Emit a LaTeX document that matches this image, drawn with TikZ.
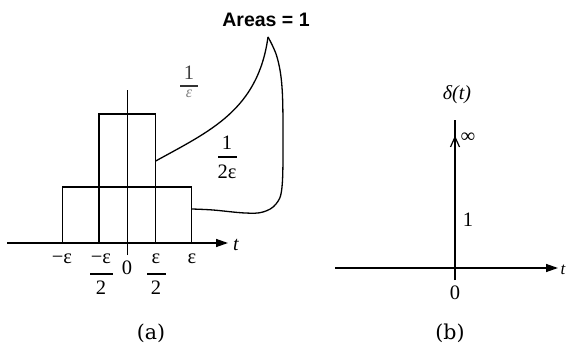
\documentclass[tikz,border=0pt]{standalone}
\usepackage{fontspec}
\setmainfont{Liberation Serif}
\newfontfamily\areafont{Liberation Sans}
\newfontfamily\capfont{DejaVu Serif}
\usetikzlibrary{arrows.meta}
\begin{document}
\begin{tikzpicture}[x=1pt,y=-1pt,
  lbl/.style={inner sep=0pt,font=\fontsize{20.5}{22}\selectfont},
  ilbl/.style={inner sep=0pt,font=\fontsize{20}{22}\selectfont\itshape},
  small/.style={inner sep=0pt,font=\fontsize{16}{17}\selectfont\itshape,text=black!50},
  caption/.style={inner sep=0pt,font=\capfont\fontsize{20.5}{22}\selectfont},
  ax/.style={line width=1.4pt},
  boxline/.style={line width=1.3pt},
  fbar/.style={line width=1.1pt},
  tip/.style={-{Triangle[length=12pt,width=8pt]}}]
\useasboundingbox (0,0) rectangle (567,347);
% ---------- panel (a) ----------
\coordinate (axL) at (7,243);
\coordinate (axR) at (228,243);
\coordinate (vB) at (127.3,255);
\coordinate (vT) at (127.3,90);
\draw[boxline] (62.7,243) rectangle (191.7,187);
\draw[boxline] (99,243) rectangle (155.7,114);
\draw[ax,tip] (axL) -- (axR);
\draw[ax] (vB) -- (vT);
\node[ilbl,anchor=west] (ta) at (233,245) {t};
\node[lbl] (xm) at (62,259) {−ε};
\node[lbl] (hmn) at (101,259) {−ε};
\node[lbl] (hmd) at (101,288) {2};
\draw[fbar] (90,274) -- (113,274);
\node[lbl] (z) at (127,268) {0};
\node[lbl] (hpn) at (156,259) {ε};
\node[lbl] (hpd) at (156,288) {2};
\draw[fbar] (147,274) -- (166,274);
\node[lbl] (xp) at (192,259) {ε};
% heights
\node[lbl,text=black!75] (h1n) at (189,73) {1};
\draw[fbar,black!80] (180,86) -- (198,86);
\node[small] (h1d) at (189,94) {ε};
\node[lbl] (h2n) at (227,143) {1};
\draw[fbar] (218,157) -- (237,157);
\node[lbl] (h2d) at (227,172) {2ε};
% Areas
\node[inner sep=0pt,font=\areafont\bfseries\fontsize{19.5}{21}\selectfont] (areas) at (266,19.5) {Areas = 1};
\coordinate (peak) at (268,37);
\coordinate (s1) at (155.7,161);
\coordinate (s2) at (191.7,209);
\draw[line width=1.3pt,line join=round] (s1) .. controls (210,131) and (258,110) .. (peak);
\draw[line width=1.3pt,line join=round] plot[smooth,tension=0.6] coordinates {(268,37) (277,57) (282,87) (283,137) (282,187) (276,204) (263,212) (245,213) (213,210) (191.7,209)};
\node[caption] (capa) at (151,333) {(a)};
% ---------- panel (b) ----------
\coordinate (bL) at (335,268);
\coordinate (bR) at (558,268);
\coordinate (bB) at (455,280);
\coordinate (bT) at (455,120);
\draw[ax,tip] (bL) -- (bR);
\draw[ax] (bB) -- (bT);
\draw[line width=1.2pt,line join=miter] (450.5,147) -- (455,137) -- (459.5,147);
\node[ilbl] (delta) at (457,95) {δ(t)};
\node[lbl,font=\fontsize{20}{22}\selectfont\bfseries] (inf) at (468,138) {∞};
\node[lbl] (one) at (468,220) {1};
\node[lbl] (zb) at (455,293) {0};
\node[ilbl,font=\fontsize{17}{20}\selectfont\itshape,anchor=west] (tb) at (560.5,270) {t};
\node[caption] (capb) at (450,333) {(b)};
\end{tikzpicture}
\end{document}
